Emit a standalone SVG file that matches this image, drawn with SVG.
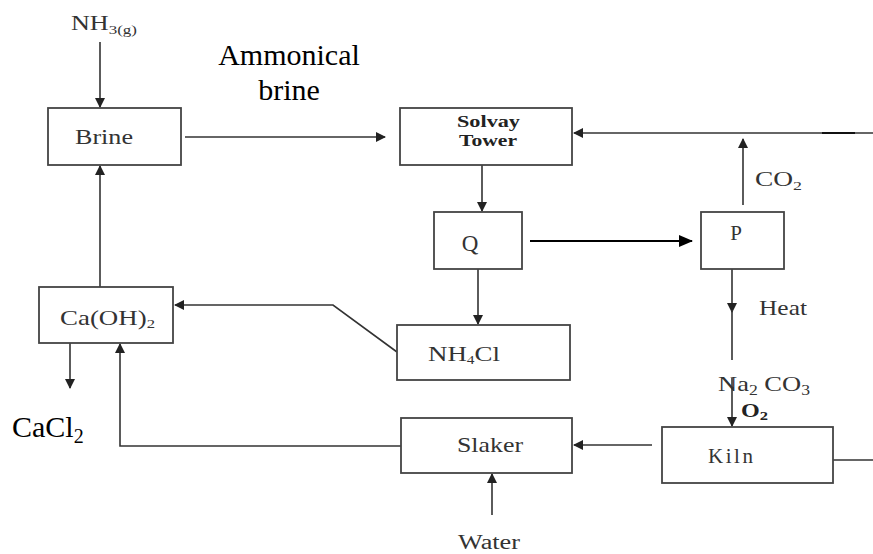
<svg xmlns="http://www.w3.org/2000/svg" width="873" height="554" viewBox="0 0 873 554">
<defs>
<marker id="ah" markerWidth="10" markerHeight="10" refX="9" refY="5" orient="auto" markerUnits="userSpaceOnUse">
<path d="M0,0 L10,5 L0,10 z" fill="#222"/>
</marker>
<marker id="ahb" markerWidth="14" markerHeight="14" refX="13" refY="7" orient="auto" markerUnits="userSpaceOnUse">
<path d="M0,1 L14,7 L0,13 z" fill="#000"/>
</marker>
<style>
.box{fill:#fff;stroke:#444;stroke-width:1.8}
.t{font-family:'Liberation Serif','Times New Roman','DejaVu Serif',serif;fill:#333}
.big{font-family:'Liberation Serif','Times New Roman','DejaVu Serif',serif;fill:#000}
.c{fill:none;stroke:#333;stroke-width:1.6}
</style>
</defs>
<rect width="873" height="554" fill="#fff"/>
<g id="connectors">
<line class="c" x1="100" y1="42" x2="100" y2="107" marker-end="url(#ah)"/>
<line class="c" x1="185" y1="137" x2="385" y2="137" marker-end="url(#ah)"/>
<line class="c" x1="873" y1="133" x2="574" y2="133" marker-end="url(#ah)"/>
<line x1="822" y1="133" x2="855" y2="133" stroke="#111" stroke-width="2.2"/>
<line class="c" x1="743" y1="205" x2="743" y2="139" marker-end="url(#ah)"/>
<line class="c" x1="482" y1="165" x2="482" y2="211" marker-end="url(#ah)"/>
<line x1="530" y1="241" x2="692" y2="241" stroke="#000" stroke-width="2.2" marker-end="url(#ahb)"/>
<line class="c" x1="478" y1="269" x2="478" y2="324" marker-end="url(#ah)"/>
<line class="c" x1="732" y1="269" x2="732" y2="312" marker-end="url(#ah)"/>
<line class="c" x1="732" y1="310" x2="732" y2="360"/>
<line class="c" x1="732" y1="378" x2="732" y2="426" marker-end="url(#ah)"/>
<line class="c" x1="833" y1="460" x2="873" y2="460"/>
<line class="c" x1="652" y1="445" x2="574" y2="445" marker-end="url(#ah)"/>
<line class="c" x1="492" y1="515" x2="492" y2="474" marker-end="url(#ah)"/>
<polyline class="c" points="397,352 333,305 175,305" marker-end="url(#ah)"/>
<polyline class="c" points="401,446 120,446 120,344" marker-end="url(#ah)"/>
<line class="c" x1="100" y1="287" x2="100" y2="166" marker-end="url(#ah)"/>
<line class="c" x1="70" y1="343" x2="70" y2="388" marker-end="url(#ah)"/>
</g>
<g id="nh3">
<text class="t" x="71" y="30" style="font-size:20px" textLength="66" lengthAdjust="spacingAndGlyphs">NH<tspan style="font-size:13px" dy="4">3(g)</tspan></text>
</g>
<g id="ammonical">
<text class="big" x="289" y="65" text-anchor="middle" style="font-size:30px">Ammonical</text>
<text class="big" x="289" y="100" text-anchor="middle" style="font-size:30px">brine</text>
</g>
<g id="brine">
<rect class="box" x="48" y="108" width="133" height="57"/>
<text class="t" x="75" y="144" style="font-size:21px" textLength="58" lengthAdjust="spacingAndGlyphs">Brine</text>
</g>
<g id="solvay">
<rect class="box" x="400" y="108" width="172" height="57"/>
<text class="t" x="457" y="127" style="font-size:17px;font-weight:bold;fill:#222" textLength="63" lengthAdjust="spacingAndGlyphs">Solvay</text>
<text class="t" x="459" y="146" style="font-size:17px;font-weight:bold;fill:#222" textLength="58" lengthAdjust="spacingAndGlyphs">Tower</text>
</g>
<g id="q">
<rect class="box" x="434" y="212" width="88" height="57"/>
<text class="t" x="470" y="251" text-anchor="middle" style="font-size:23px">Q</text>
</g>
<g id="p">
<rect class="box" x="701" y="212" width="83" height="57"/>
<text class="t" x="736" y="240" text-anchor="middle" style="font-size:21px">P</text>
</g>
<g id="co2">
<text class="t" x="755" y="186" style="font-size:20px" textLength="47" lengthAdjust="spacingAndGlyphs">CO<tspan style="font-size:13px" dy="4">2</tspan></text>
</g>
<g id="heat">
<text class="t" x="759" y="315" style="font-size:21px" textLength="48" lengthAdjust="spacingAndGlyphs">Heat</text>
</g>
<g id="na2co3">
<text class="t" x="718" y="391" style="font-size:21px" textLength="92" lengthAdjust="spacingAndGlyphs">Na<tspan style="font-size:14px" dy="4">2</tspan><tspan dy="-4"> CO</tspan><tspan style="font-size:14px" dy="4">3</tspan></text>
<text class="t" x="741" y="417" style="font-size:19px;font-weight:bold;fill:#222" textLength="27" lengthAdjust="spacingAndGlyphs">O<tspan style="font-size:13px" dy="3">2</tspan></text>
</g>
<g id="nh4cl">
<rect class="box" x="397" y="325" width="173" height="55"/>
<text class="t" x="428" y="361" style="font-size:21px" textLength="72" lengthAdjust="spacingAndGlyphs">NH<tspan style="font-size:12px" dy="3">4</tspan><tspan dy="-3">Cl</tspan></text>
</g>
<g id="caoh2">
<rect class="box" x="39" y="287" width="134" height="56"/>
<text class="t" x="60" y="325" style="font-size:21px" textLength="95" lengthAdjust="spacingAndGlyphs">Ca(OH)<tspan style="font-size:13px" dy="3">2</tspan></text>
</g>
<g id="cacl2">
<text class="big" x="12" y="437" style="font-size:30px">CaCl<tspan style="font-size:20px" dy="6">2</tspan></text>
</g>
<g id="slaker">
<rect class="box" x="401" y="418" width="171" height="55"/>
<text class="t" x="457" y="452" style="font-size:21px" textLength="66" lengthAdjust="spacingAndGlyphs">Slaker</text>
</g>
<g id="kiln">
<rect class="box" x="662" y="427" width="171" height="56"/>
<text class="t" x="708" y="463" style="font-size:21px" textLength="45" lengthAdjust="spacing">Kiln</text>
</g>
<g id="water">
<text class="t" x="458" y="549" style="font-size:20px" textLength="62" lengthAdjust="spacingAndGlyphs">Water</text>
</g>
</svg>
